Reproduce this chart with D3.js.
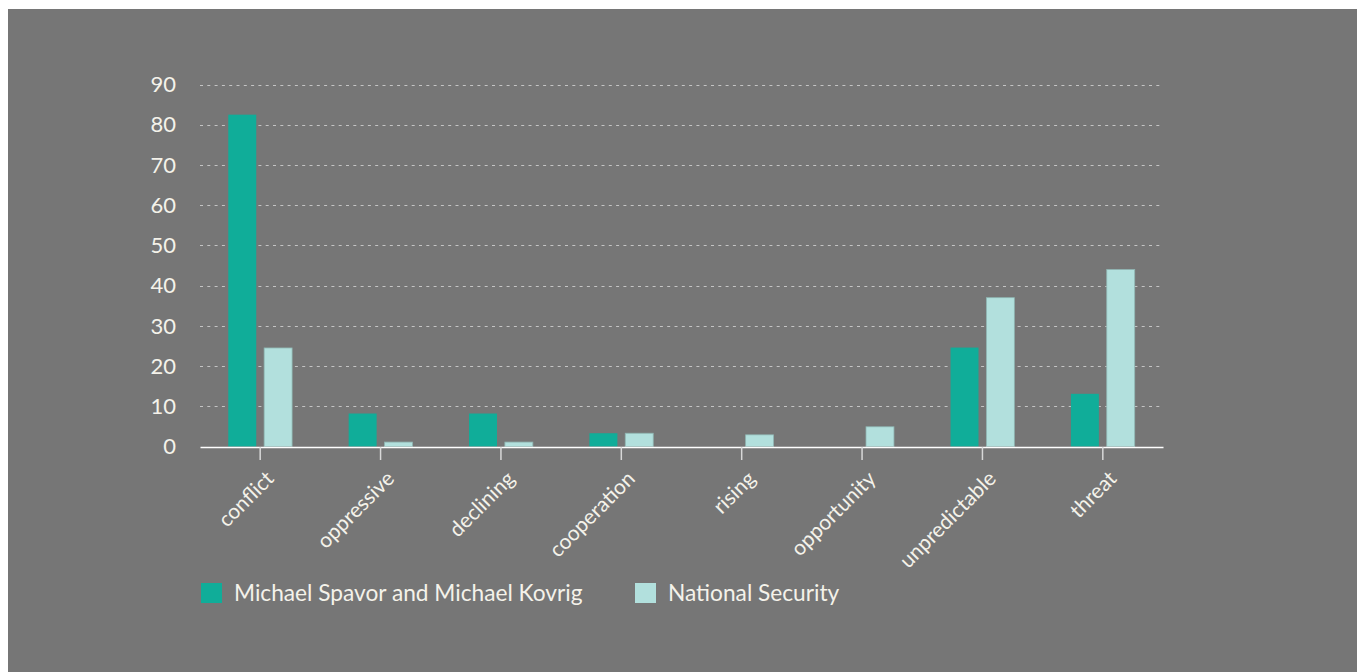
<!DOCTYPE html>
<html>
<head>
<meta charset="utf-8">
<script src="https://cdn.jsdelivr.net/npm/d3@7"></script>
<style>
  html, body { margin: 0; padding: 0; background: #ffffff; }
  svg { display: block; }
</style>
</head>
<body>
<svg id="chart" width="1357" height="672"></svg>
<script>
// Word frequencies compared across two coverage themes
const categories = ["conflict", "oppressive", "declining", "cooperation", "rising", "opportunity", "unpredictable", "threat"];
const seriesNames = ["Michael Spavor and Michael Kovrig", "National Security"];
const spavorKovrig = [82.5, 8.2, 8.2, 3.3, 0, 0, 24.6, 13.1];
const nationalSecurity = [24.5, 1.1, 1.1, 3.3, 2.9, 4.9, 37, 44];
const yTicks = [0, 10, 20, 30, 40, 50, 60, 70, 80, 90];

const colors = ["#10ad99", "#b2e0dd"];
const textColor = "#f4f2ea";
const fontFamily = "Lato, 'Noto Sans', sans-serif";

const svg = d3.select("#chart");

// grey panel
svg.append("rect")
  .attr("x", 8).attr("y", 9)
  .attr("width", 1357 - 8).attr("height", 672 - 9)
  .attr("fill", "#767676");

const plot = { left: 200, right: 1163, top: 84.5, bottom: 446.5 };

const x = d3.scaleBand()
  .domain(categories)
  .range([plot.left, plot.right])
  .paddingInner(0.47)
  .paddingOuter(0.235);

const x1 = d3.scaleBand()
  .domain([0, 1])
  .range([0, x.bandwidth()])
  .paddingInner(0.22);

const y = d3.scaleLinear()
  .domain([0, 90])
  .range([plot.bottom, plot.top]);

// dotted gridlines
svg.append("g")
  .selectAll("line")
  .data(yTicks.filter(d => d > 0))
  .join("line")
  .attr("x1", plot.left)
  .attr("x2", 1160)
  .attr("y1", d => Math.round(y(d)) + 0.5)
  .attr("y2", d => Math.round(y(d)) + 0.5)
  .attr("stroke", "#c4c4c4")
  .attr("stroke-width", 1)
  .attr("stroke-dasharray", "3,4.3");

// y tick labels
svg.append("g")
  .selectAll("text")
  .data(yTicks)
  .join("text")
  .attr("x", 176)
  .attr("y", d => y(d))
  .attr("dy", "0.35em")
  .attr("text-anchor", "end")
  .attr("fill", textColor)
  .attr("font-family", fontFamily)
  .attr("font-size", 22)
  .text(d => d);

// bars
const rows = categories.map((c, i) => ({ cat: c, vals: [spavorKovrig[i], nationalSecurity[i]] }));
const groups = svg.append("g")
  .selectAll("g")
  .data(rows)
  .join("g")
  .attr("transform", d => `translate(${x(d.cat)},0)`);

groups.selectAll("rect")
  .data(d => d.vals.map((v, k) => ({ v, k })).filter(e => e.v > 0))
  .join("rect")
  .attr("x", d => x1(d.k))
  .attr("width", x1.bandwidth())
  .attr("y", d => y(d.v))
  .attr("height", d => plot.bottom - y(d.v))
  .attr("fill", d => colors[d.k])
  .attr("stroke", d => d.k === 1 ? "#8fb5b2" : "none")
  .attr("stroke-width", 0.8);

// x axis
const xAxis = svg.append("g")
  .attr("transform", `translate(0,${plot.bottom + 0.5})`)
  .call(d3.axisBottom(x).tickSize(13).tickSizeOuter(0));
xAxis.select(".domain").attr("stroke", "#ffffff").attr("stroke-width", 1.5);
xAxis.selectAll(".tick line").attr("stroke", "#d8d8d8").attr("stroke-width", 1.5);
xAxis.selectAll(".tick text")
  .attr("fill", textColor)
  .attr("font-family", fontFamily)
  .attr("font-size", 21)
  .attr("text-anchor", "end")
  .attr("dy", null)
  .attr("y", 0)
  .attr("transform", "translate(15,33) rotate(-45)");

// legend
const legend = svg.append("g").attr("transform", "translate(201,583)");
const legendX = [0, 434];
seriesNames.forEach((name, k) => {
  const g = legend.append("g").attr("transform", `translate(${legendX[k]},0)`);
  g.append("rect")
    .attr("width", 21).attr("height", 20)
    .attr("fill", colors[k]);
  g.append("text")
    .attr("x", 33)
    .attr("y", 10)
    .attr("dy", "0.36em")
    .attr("fill", textColor)
    .attr("font-family", fontFamily)
    .attr("font-size", 22.7)
    .text(name);
});
</script>
</body>
</html>
